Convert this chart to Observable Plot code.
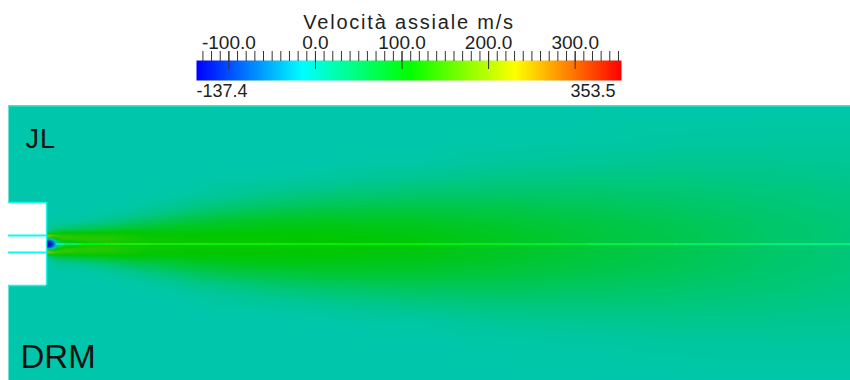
<!DOCTYPE html>
<html>
<head>
<meta charset="utf-8">
<script src="https://cdn.jsdelivr.net/npm/d3@7"></script>
<script src="https://cdn.jsdelivr.net/npm/@observablehq/plot@0.6"></script>
<style>
  html, body { margin: 0; padding: 0; background: #ffffff; }
  #chart { width: 850px; height: 380px; overflow: hidden; }
  #chart svg { display: block; }
</style>
</head>
<body>
<div id="chart"></div>
<script>
// ---------- legend (colour bar) ----------
const legendTitle = "Velocità assiale m/s";
const vMin = -137.4;
const vMax = 353.5;
const majorTicks = [-100, 0, 100, 200, 300];
const minorTicks = [-130, -120, -110, -100, -90, -80, -70, -60, -50, -40, -30, -20, -10,
  0, 10, 20, 30, 40, 50, 60, 70, 80, 90, 100, 110, 120, 130, 140, 150, 160, 170, 180, 190,
  200, 210, 220, 230, 240, 250, 260, 270, 280, 290, 300, 310, 320, 330, 340, 350];
const rangeLabels = [vMin, vMax];

// rainbow (HSV blue -> red) colour stops
const colorStops = [-137.4, -14.675, 108.05, 230.775, 353.5];
const colorRange = ["#0000ff", "#00ffff", "#00ff00", "#ffff00", "#ff0000"];

// ---------- field: axial velocity (m/s) sampled at axial stations x/D and radial stations r/D ----------
const fieldX = [-2.24, 47.3];
const fieldY = [-8.03, 8.15];
const xStations = [-2.24, 0, 0.15, 0.35, 0.6, 1, 2, 3.5, 6, 9, 13, 17, 22, 27, 32, 37, 42, 47.3];
const rStations = [0, 0.15, 0.3, 0.45, 0.55, 0.7, 0.9, 1.3, 1.8, 2.4, 3.1, 3.9, 4.8, 6.0, 8.2];
const vRows = [
  [2, 2, 2, 2, 2, 2, 2, 2, 2, 2, 2, 2, 2, 2, 2],
  [-137, -130, 0, 210, 140, 25, 8, 4, 3, 2, 2, 2, 2, 2, 2],
  [-137, -120, 5, 205, 150, 45, 12, 5, 3, 2, 2, 2, 2, 2, 2],
  [-110, -80, 20, 170, 145, 70, 20, 6, 3, 2, 2, 2, 2, 2, 2],
  [10, 30, 110, 150, 130, 80, 30, 8, 3, 2, 2, 2, 2, 2, 2],
  [60, 100, 135, 140, 125, 88, 40, 8, 3, 2, 2, 2, 2, 2, 2],
  [100, 120, 135, 130, 120, 95, 52, 12, 4, 2, 2, 2, 2, 2, 2],
  [120, 128, 132, 128, 120, 104, 68, 25, 7, 3, 2, 2, 2, 2, 2],
  [116, 116, 115, 112, 108, 100, 86, 52, 22, 7, 3, 2, 2, 2, 2],
  [114, 114, 112, 110, 107, 103, 95, 76, 48, 22, 7, 3, 2, 2, 2],
  [112, 112, 111, 109, 107, 104, 99, 88, 66, 40, 18, 6, 2, 2, 2],
  [108, 108, 107, 106, 105, 103, 99, 90, 74, 51, 28, 11, 3, 2, 2],
  [100, 100, 99, 99, 98, 96, 93, 86, 74, 57, 37, 18, 6, 2, 2],
  [86, 86, 86, 85, 85, 84, 82, 77, 69, 56, 41, 25, 12, 4, 2],
  [72, 72, 72, 71, 71, 70, 69, 66, 60, 51, 40, 28, 15, 6, 2],
  [60, 60, 60, 60, 59, 59, 58, 56, 51, 45, 37, 28, 18, 9, 2],
  [46, 46, 46, 46, 46, 45, 45, 44, 41, 37, 32, 25, 18, 10, 3],
  [34, 34, 34, 34, 34, 34, 33, 33, 31, 29, 26, 21, 16, 10, 3]
];
// nozzle geometry (x/D, r/D)
const nozzleX = [-2.24, 0];
const nozzleOuterR = 2.44;
const nozzleBoreR = 0.5;
const caseLabels = ["JL", "DRM"];

// table built from the arrays above (mirrored about the jet axis)
const field = [];
xStations.forEach((x, i) => rStations.forEach((r, j) => {
  field.push({x, y: r, v: vRows[i][j]});
  if (r > 0) field.push({x, y: -r, v: vRows[i][j]});
}));
const centerline = xStations
  .map((x, i) => ({x, y: 0, v: vRows[i][0]}))
  .filter(d => d.x >= 0.6);

const colorScale = {type: "linear", domain: colorStops, range: colorRange, interpolate: "rgb", clamp: true};
const font = "'Liberation Sans', Arial, sans-serif";

const legend = Plot.plot({
  width: 850, height: 105,
  marginLeft: 196, marginRight: 229, marginTop: 60, marginBottom: 25,
  style: {fontFamily: font, fontSize: "19px", color: "#222", background: "#fff"},
  x: {domain: [vMin, vMax]},
  y: {domain: [0, 1], axis: null},
  color: colorScale,
  marks: [
    Plot.raster({fill: (x, y) => x, x1: vMin, x2: vMax, y1: 0, y2: 1}),
    Plot.axisX(minorTicks, {anchor: "top", tickSize: 10, tickFormat: () => "", label: null, stroke: "#333"}),
    Plot.axisX(majorTicks, {anchor: "top", tickSize: 10, tickPadding: 2, tickFormat: d => d.toFixed(1), label: null, stroke: "#333", fill: "#222"}),
    Plot.tickX(majorTicks, {x: d => d, insetBottom: 11, stroke: "#333"}),
    Plot.text([legendTitle], {text: d => d, frameAnchor: "top", lineAnchor: "bottom", dy: -32, fontSize: 20, fill: "#222"}),
    Plot.text([rangeLabels[0]], {x: d => d, text: d => d.toFixed(1), frameAnchor: "bottom", lineAnchor: "top", textAnchor: "start", dy: 4, fontSize: 18, fill: "#222"}),
    Plot.text([rangeLabels[1]], {x: d => d, text: d => d.toFixed(1), frameAnchor: "bottom", lineAnchor: "top", textAnchor: "end", dx: -6, dy: 4, fontSize: 18, fill: "#222"})
  ]
});

const plot = Plot.plot({
  width: 850, height: 275,
  marginLeft: 8, marginRight: 0, marginTop: 0, marginBottom: 0,
  style: {fontFamily: font, background: "#fff"},
  x: {domain: fieldX, axis: null},
  y: {domain: fieldY, axis: null},
  color: colorScale,
  marks: [
    Plot.raster(field, {x: "x", y: "y", fill: "v", interpolate: "barycentric"}),
    Plot.frame({fill: "black", fillOpacity: 0.22, stroke: "none"}),
    Plot.rect([nozzleOuterR], {x1: nozzleX[0], x2: nozzleX[1], y1: d => -d, y2: d => d, fill: "white"}),
    Plot.ruleY([-nozzleOuterR, nozzleOuterR], {x1: nozzleX[0], x2: nozzleX[1], stroke: "#22f2e2", strokeWidth: 1.5}),
    Plot.ruleX([nozzleX[1]], {y1: -nozzleOuterR, y2: nozzleOuterR, stroke: "#22f2e2", strokeWidth: 1.5}),
    Plot.ruleY([-nozzleBoreR, nozzleBoreR], {x1: nozzleX[0], x2: nozzleX[1], stroke: "#10fbef", strokeWidth: 2}),
    Plot.line(centerline, {x: "x", y: "y", stroke: "v", z: null, strokeWidth: 1.5}),
    Plot.ruleY([fieldY[1]], {x1: fieldX[0], x2: fieldX[1], stroke: "#3fe6cf", strokeWidth: 2}),
    Plot.text([caseLabels[0]], {text: d => d, frameAnchor: "top-left", textAnchor: "start", lineAnchor: "bottom", dx: 17, dy: 42, fontSize: 27, fill: "#111"}),
    Plot.text([caseLabels[1]], {text: d => d, frameAnchor: "bottom-left", textAnchor: "start", lineAnchor: "bottom", dx: 12, dy: -13, fontSize: 33, fill: "#111"})
  ]
});

// typographic tweaks (spacing of the ParaView-like labels)
legend.querySelectorAll("text").forEach(t => {
  if (t.textContent === legendTitle) t.style.letterSpacing = "1.8px";
});
plot.querySelectorAll("text").forEach(t => {
  if (t.textContent === "JL") t.style.letterSpacing = "1px";
});

const chart = document.getElementById("chart");
chart.appendChild(legend);
chart.appendChild(plot);
</script>
</body>
</html>
